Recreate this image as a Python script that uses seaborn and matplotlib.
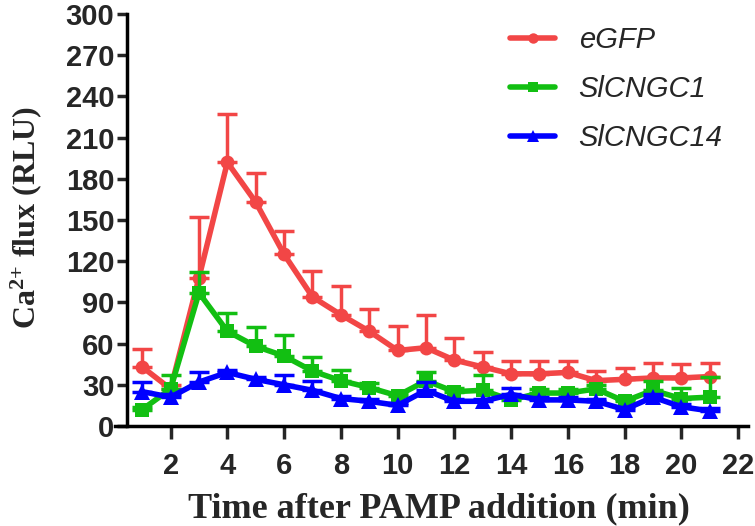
#!/usr/bin/env python3
# Ca2+ flux after PAMP addition, eGFP vs SlCNGC silencing

import numpy as np
import pandas as pd
import seaborn as sns
import matplotlib.pyplot as plt

sns.set_style("ticks")
plt.rcParams["mathtext.fontset"] = "custom"
plt.rcParams["mathtext.rm"] = "Liberation Serif:bold"
plt.rcParams["mathtext.it"] = "Liberation Serif:bold"
plt.rcParams["mathtext.bf"] = "Liberation Serif:bold"

minutes = list(range(1, 22))

egfp = [43, 27, 108, 192, 163, 125, 94, 81, 69, 55, 57, 48, 43, 38, 38, 39, 33, 34, 35, 35, 36]
egfp_err = [13, 3, 44, 35, 21, 17, 19, 21, 16, 18, 24, 16, 11, 9, 9, 8, 7, 8, 11, 10, 10]

cngc1 = [12, 27, 97, 69, 58, 51, 40, 33, 28, 22, 33, 25, 26, 19, 24, 24, 27, 18, 26, 20, 21]
cngc1_err = [2, 10, 15, 13, 14, 15, 10, 8, 3, 2, 6, 3, 11, 2, 3, 3, 3, 2, 7, 8, 15]

cngc14 = [25, 21, 32, 39, 34, 30, 26, 20, 18, 15, 26, 18, 18, 23, 19, 19, 18, 12, 21, 14, 11]
cngc14_err = [7, 2, 7, 2, 2, 7, 7, 2, 2, 2, 6, 2, 2, 5, 2, 2, 2, 2, 2, 2, 2]

labels = ["eGFP", "SlCNGC1", "SlCNGC14"]
colors = ["#f24646", "#12bf12", "#0000ff"]
markers = ["o", "s", "^"]

frames = []
for name, vals, errs in zip(labels, [egfp, cngc1, cngc14], [egfp_err, cngc1_err, cngc14_err]):
    frames.append(pd.DataFrame({"time": minutes, "flux": vals, "err": errs, "line": name}))
df = pd.concat(frames, ignore_index=True)

fig = plt.figure(figsize=(7.55, 5.26), dpi=100)
ax = fig.add_axes([115 / 755, 1 - 426 / 526, 633 / 755, 412 / 526])

for i, (name, col, mk) in enumerate(zip(labels, colors, markers)):
    sub = df[df["line"] == name]
    ax.errorbar(sub["time"], sub["flux"], yerr=[np.zeros(len(sub)), sub["err"]],
                fmt="none", ecolor=col, elinewidth=2.5, capsize=7, capthick=2.5,
                zorder=2 + i)
    sns.lineplot(data=sub, x="time", y="flux", color=col, marker=mk,
                 markersize=10 if mk != "^" else 11, markeredgewidth=0,
                 linewidth=4, label=name, ax=ax, zorder=2.5 + i)

ax.set_xlim(0.04, 22.35)
ax.set_ylim(0, 300)
ax.set_xticks(range(2, 23, 2))
ax.set_yticks(range(0, 301, 30))

for s in ["top", "right"]:
    ax.spines[s].set_visible(False)
for s in ["left", "bottom"]:
    ax.spines[s].set_linewidth(2.5)
    ax.spines[s].set_color("black")
ax.spines["left"].set_position(("data", 0.46))

ax.tick_params(axis="y", length=7, width=2.5, pad=2, labelsize=21)
ax.tick_params(axis="x", length=9, width=2.5, pad=10, labelsize=21)
for t in ax.get_xticklabels() + ax.get_yticklabels():
    t.set_fontfamily("Liberation Sans")
    t.set_fontweight("bold")

ax.set_xlabel("Time after PAMP addition (min)", fontfamily="Liberation Serif",
              fontweight="bold", fontsize=26)
ax.xaxis.set_label_coords(0.511, -0.160)
ax.xaxis.label.set_va("top")
ax.set_ylabel("Ca$^{2{+}}$ flux (RLU)", fontfamily="Liberation Serif",
              fontweight="bold", fontsize=23)
ax.yaxis.set_label_coords(-0.112, 0.507)

leg = ax.legend(loc="upper left", bbox_to_anchor=(510 / 755, 1 - 26 / 526),
                bbox_transform=fig.transFigure, frameon=False, borderpad=0,
                borderaxespad=0, handlelength=1.55, labelspacing=0.72,
                handletextpad=0.8, markerscale=0.75,
                prop={"family": "Liberation Sans", "style": "italic", "size": 21})

fig.savefig("out.png", dpi=100)
